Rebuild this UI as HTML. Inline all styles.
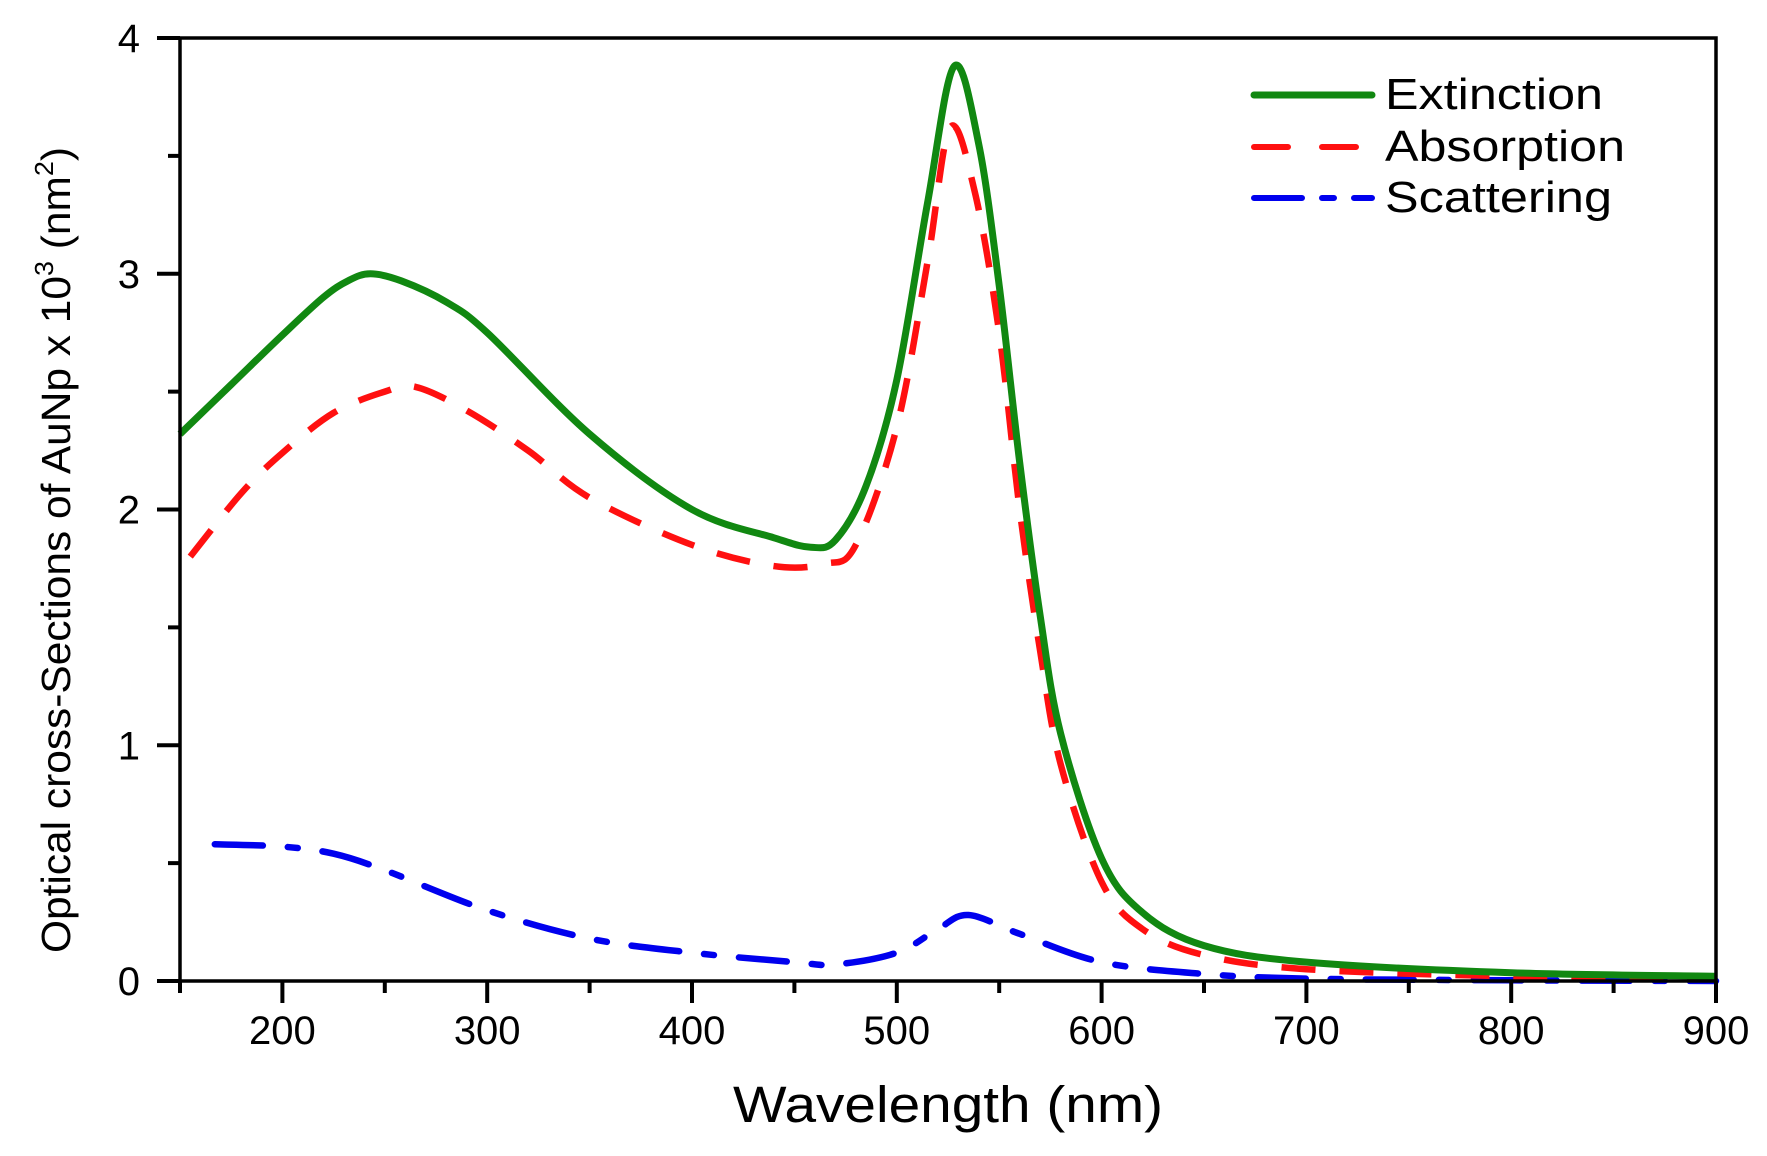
<!DOCTYPE html>
<html><head><meta charset="utf-8"><style>html,body{margin:0;padding:0;background:#fff}svg{display:block}</style></head>
<body>
<svg id="s" xmlns="http://www.w3.org/2000/svg" width="1767" height="1156" viewBox="0 0 1767 1156" font-family="Liberation Sans, Arial, sans-serif">
<rect width="1767" height="1156" fill="#fff"/>
<g id="curves"></g>
<rect x="180" y="38" width="1536" height="943" fill="none" stroke="#000" stroke-width="3.5"/>
<g id="ticks" stroke="#000" stroke-width="4"></g>
<g id="labels" font-size="40" fill="#000"></g>
<text x="733" y="1122" font-size="51" textLength="430" lengthAdjust="spacingAndGlyphs">Wavelength (nm)</text>
<text transform="translate(70,953) rotate(-90)" font-size="41" textLength="806" lengthAdjust="spacingAndGlyphs">Optical cross-Sections of AuNp x 10<tspan dy="-17" font-size="26">3</tspan><tspan dy="17"> (nm</tspan><tspan dy="-17" font-size="26">2</tspan><tspan dy="17">)</tspan></text>
<line x1="1254" y1="95" x2="1372" y2="95" stroke="#118811" stroke-width="7" stroke-linecap="round"/>
<line x1="1254" y1="147" x2="1372" y2="147" stroke="#ff1010" stroke-width="6" stroke-dasharray="34,34" stroke-linecap="round"/>
<line x1="1254" y1="198" x2="1372" y2="198" stroke="#0000ee" stroke-width="6" stroke-dasharray="48,20,12,20" stroke-linecap="round"/>
<g font-size="44" fill="#000">
<text x="1385" y="109" textLength="218" lengthAdjust="spacingAndGlyphs">Extinction</text>
<text x="1385" y="161" textLength="240" lengthAdjust="spacingAndGlyphs">Absorption</text>
<text x="1385" y="212" textLength="227" lengthAdjust="spacingAndGlyphs">Scattering</text>
</g>
</svg>
<script>
const X=v=>180+(v-150)*2.048, Y=v=>981-v*235.75;
function path(pts){
  const p=pts.map(a=>[X(a[0]),Y(a[1])]);
  let d=`M${p[0][0]},${p[0][1]}`;
  for(let i=0;i<p.length-1;i++){
    const p0=p[i-1]||p[i],p1=p[i],p2=p[i+1],p3=p[i+2]||p[i+1];
    const c1=[p1[0]+(p2[0]-p0[0])/6,p1[1]+(p2[1]-p0[1])/6];
    const c2=[p2[0]-(p3[0]-p1[0])/6,p2[1]-(p3[1]-p1[1])/6];
    d+=` C${c1[0]},${c1[1]} ${c2[0]},${c2[1]} ${p2[0]},${p2[1]}`;
  }
  return d;
}
const ext=[[150,2.32],[175,2.53],[200,2.74],[220,2.9],[232,2.97],[243,3.0],[258,2.97],[280,2.88],[300,2.75],[350,2.32],[400,2.0],[440,1.88],[458,1.84],[470,1.87],[485,2.1],[500,2.55],[515,3.3],[528,3.88],[540,3.55],[550,2.95],[560,2.2],[570,1.55],[580,1.05],[600,0.52],[620,0.29],[650,0.15],[700,0.08],[800,0.035],[900,0.02]];
const abs=[[155,1.8],[180,2.07],[200,2.24],[225,2.41],[250,2.5],[265,2.52],[290,2.42],[320,2.25],[350,2.05],[400,1.85],[440,1.76],[465,1.77],[480,1.85],[500,2.35],[515,3.05],[526,3.62],[538,3.35],[550,2.75],[560,2.0],[570,1.4],[580,0.92],[600,0.42],[620,0.22],[650,0.11],[700,0.05],[800,0.02],[900,0.01]];
const sca=[[167,0.58],[200,0.57],[225,0.54],[250,0.47],[300,0.3],[350,0.18],[400,0.12],[450,0.08],[470,0.07],[500,0.12],[520,0.22],[535,0.28],[560,0.2],[600,0.08],[650,0.03],[700,0.01],[800,0.003],[900,0.0]];
const g=document.getElementById('curves');
g.innerHTML=`<path d="${path(sca)}" fill="none" stroke="#0000ee" stroke-width="6.5" stroke-dasharray="48,25,10,25" stroke-linecap="round"/>
<path d="${path(abs)}" fill="none" stroke="#ff1010" stroke-width="6.5" stroke-dasharray="34,24"/>
<path d="${path(ext)}" fill="none" stroke="#118811" stroke-width="7"/>`;
let t='',l='';
for(let v=150;v<=900;v+=50){const x=X(v);const maj=v%100==0;t+=`<line x1="${x}" y1="981" x2="${x}" y2="${maj?1003:993}"/>`;if(maj)l+=`<text x="${x}" y="1044" text-anchor="middle">${v}</text>`;}
for(let v=0;v<=4;v+=0.5){const y=Y(v);const maj=v%1==0;t+=`<line x1="180" y1="${y}" x2="${maj?157:168}" y2="${y}"/>`;if(maj)l+=`<text x="140" y="${y+14}" text-anchor="end">${v}</text>`;}
document.getElementById('ticks').innerHTML=t;
document.getElementById('labels').innerHTML=l;
</script>
</body></html>
